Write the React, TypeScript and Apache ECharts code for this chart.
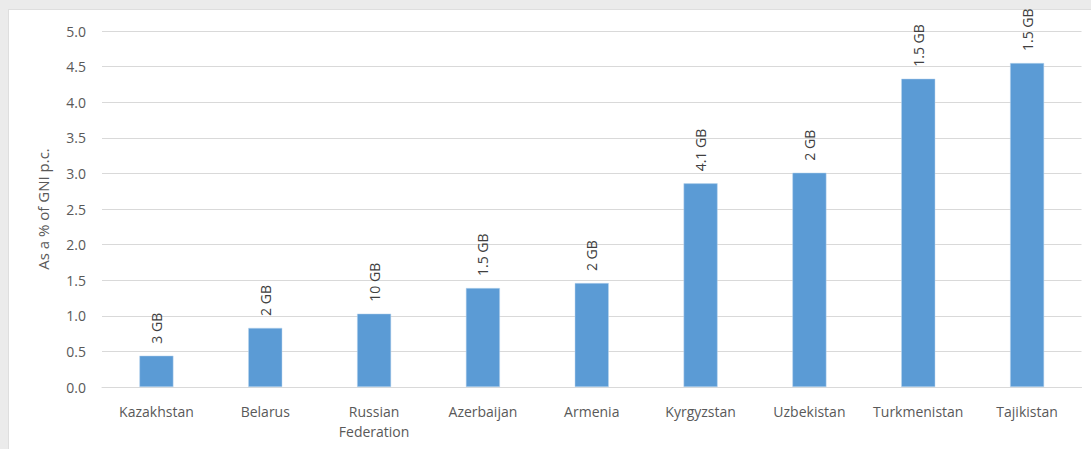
import React, { useEffect, useRef } from "react";
import * as echarts from "echarts";

const categories = ["Kazakhstan", "Belarus", "Russian\nFederation", "Azerbaijan", "Armenia", "Kyrgyzstan", "Uzbekistan", "Turkmenistan", "Tajikistan"];
const values = [0.44, 0.83, 1.03, 1.39, 1.46, 2.86, 3.01, 4.33, 4.55];
const barLabels = ["3 GB", "2 GB", "10 GB", "1.5 GB", "2 GB", "4.1 GB", "2 GB", "1.5 GB", "1.5 GB"];
const yAxisName = "As a % of GNI p.c.";

export default function App() {
  const ref = useRef<HTMLDivElement>(null);
  useEffect(() => {
    const chart = echarts.init(ref.current!, null, { renderer: "svg" });
    const font = "Open Sans";
    chart.setOption({
      animation: false,
      grid: { left: 102, right: 9.5, top: 31, bottom: 62 },
      xAxis: {
        type: "category",
        data: categories,
        axisLine: { lineStyle: { color: "#d9d9d9", width: 1 } },
        axisTick: { show: false },
        axisLabel: { color: "#595959", fontFamily: font, fontSize: 14, margin: 14, lineHeight: 20, interval: 0 },
      },
      yAxis: {
        type: "value",
        min: 0,
        max: 5,
        interval: 0.5,
        name: yAxisName,
        nameLocation: "middle",
        nameGap: 52,
        nameTextStyle: { color: "#595959", fontFamily: font, fontSize: 15 },
        axisLine: { show: false },
        axisTick: { show: false },
        axisLabel: { color: "#595959", fontFamily: font, fontSize: 14, margin: 16, formatter: (v: number) => v.toFixed(1) },
        splitLine: { lineStyle: { color: "#d9d9d9", width: 1 } },
      },
      series: [
        {
          type: "bar",
          data: values,
          barWidth: 34,
          itemStyle: { color: "#5b9bd5", borderColor: "#bdd7ee", borderWidth: 0.5 },
          label: {
            show: true,
            position: "top",
            rotate: 90,
            align: "left",
            verticalAlign: "middle",
            distance: 12,
            color: "#404040",
            fontFamily: font,
            fontSize: 14,
            formatter: (p: any) => barLabels[p.dataIndex],
          },
        },
      ],
    });
    return () => chart.dispose();
  }, []);
  return (
    <div style={{ position: "absolute", left: 0, top: 0, width: 1091, height: 449, background: "#ebebeb", overflow: "hidden" }}>
      <div style={{ position: "absolute", left: 8, top: 9, width: 1083, height: 440, background: "#fff", borderLeft: "1px solid #dedede", borderTop: "1px solid #dedede", boxSizing: "border-box" }} />
      <div ref={ref} style={{ position: "absolute", left: 0, top: 0, width: 1091, height: 449 }} />
    </div>
  );
}
